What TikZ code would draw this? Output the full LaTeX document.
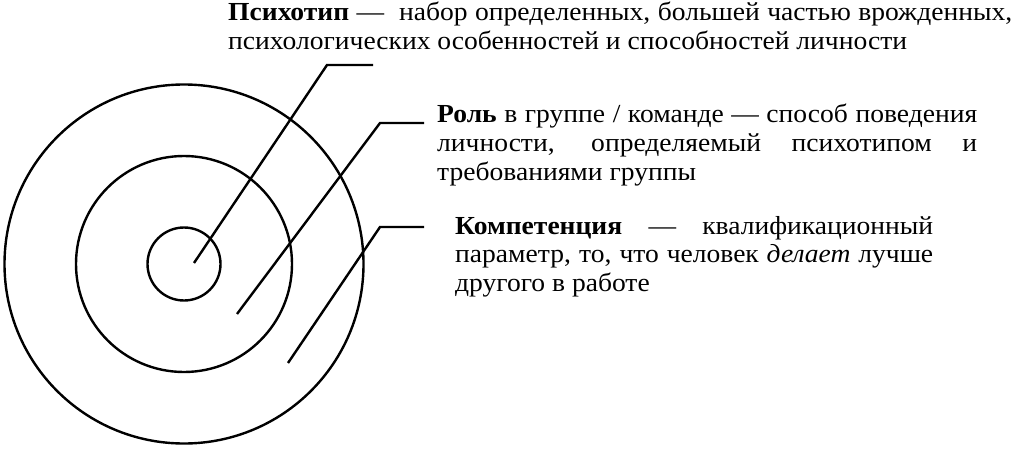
\documentclass[tikz,border=0pt]{standalone}
\usepackage{fontspec}
\setmainfont{Liberation Serif}[FakeStretch=1.06]
\begin{document}
\begin{tikzpicture}[x=1pt,y=-1pt,
  ring/.style={draw,circle,line width=2.4pt,inner sep=0pt},
  leader/.style={line width=2.4pt},
  note/.style={anchor=base west,inner sep=0pt,align=justify,
    font=\fontsize{26}{28.7}\selectfont}]
\useasboundingbox (0,0) rectangle (1024,449);

\node[ring,minimum size=359pt] (outer) at (184,264) {};
\node[ring,minimum size=216pt] (middle) at (184,264) {};
\node[ring,minimum size=73pt] (inner) at (184,264) {};

\coordinate (p1) at (194,263);
\coordinate (k1) at (327,65);
\coordinate (e1) at (373,65);
\coordinate (p2) at (237,314);
\coordinate (k2) at (380,123);
\coordinate (e2) at (424,123);
\coordinate (p3) at (288,363);
\coordinate (k3) at (380,227);
\coordinate (e3) at (424,227);

\path[draw,leader] (p1) -- (k1) -- (e1);
\path[draw,leader] (p2) -- (k2) -- (e2);
\path[draw,leader] (p3) -- (k3) -- (e3);

\node[note,text width=784pt] (psychotype) at (228,21) {\textbf{Психотип} — \ набор определенных, большей частью врожденных,\linebreak психологических особенностей и способностей личности};
\node[note,text width=540pt] (role) at (437,123) {\textbf{Роль} в группе / команде — способ поведения\linebreak личности, определяемый психотипом и\linebreak требованиями группы};
\node[note,text width=478pt] (competence) at (455,234) {\textbf{Компетенция} — квалификационный\linebreak параметр, то, что человек \textit{делает} лучше\linebreak другого в работе};
\end{tikzpicture}
\end{document}
